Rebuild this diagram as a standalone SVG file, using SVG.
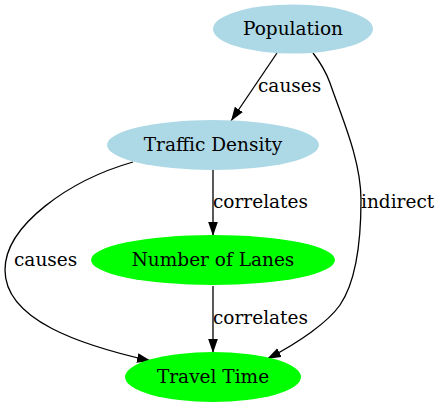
<svg xmlns="http://www.w3.org/2000/svg" width="441" height="407" viewBox="0 0 441 407">
<style>
text{font-family:"DejaVu Serif","Liberation Serif",serif;font-size:18.5px;fill:#000}
.n{text-anchor:middle}
.e path{fill:none;stroke:#000;stroke-width:1.3;marker-end:url(#ah)}
</style>
<defs>
<marker id="ah" markerUnits="userSpaceOnUse" markerWidth="14" markerHeight="10" refX="13" refY="4.5" orient="auto" viewBox="0 0 13 9">
<polygon points="0,0 13,4.5 0,9" fill="#000"/>
</marker>
</defs>
<rect width="441" height="407" fill="#fff"/>
<g class="e" id="edges">
<path d="M277,53 L231,121"/>
<text x="258" y="92">causes</text>
<path d="M313,53 C320,62 326,72 330,83 C342,118 361,160 361,200 C361,240 357,280 340,305 C328,322 300,342 267,359"/>
<text x="361" y="208">indirect</text>
<path d="M133,162 C70,180 5,225 5,270 C5,320 80,345 151,361"/>
<text x="14" y="266">causes</text>
<path d="M213,170 L213,236"/>
<text x="213" y="208">correlates</text>
<path d="M213,286 L213,353"/>
<text x="213" y="324">correlates</text>
</g>
<g id="population"><ellipse cx="293" cy="29" rx="80" ry="24.5" fill="#add8e6"/><text class="n" x="293" y="34.5">Population</text></g>
<g id="traffic_density"><ellipse cx="213" cy="145" rx="106" ry="25" fill="#add8e6"/><text class="n" x="213" y="150.5">Traffic Density</text></g>
<g id="number_of_lanes"><ellipse cx="213" cy="260" rx="122" ry="25" fill="#00ff00"/><text class="n" x="213" y="265.5">Number of Lanes</text></g>
<g id="travel_time"><ellipse cx="213" cy="377" rx="88" ry="25" fill="#00ff00"/><text class="n" x="213" y="382.5">Travel Time</text></g>
</svg>
